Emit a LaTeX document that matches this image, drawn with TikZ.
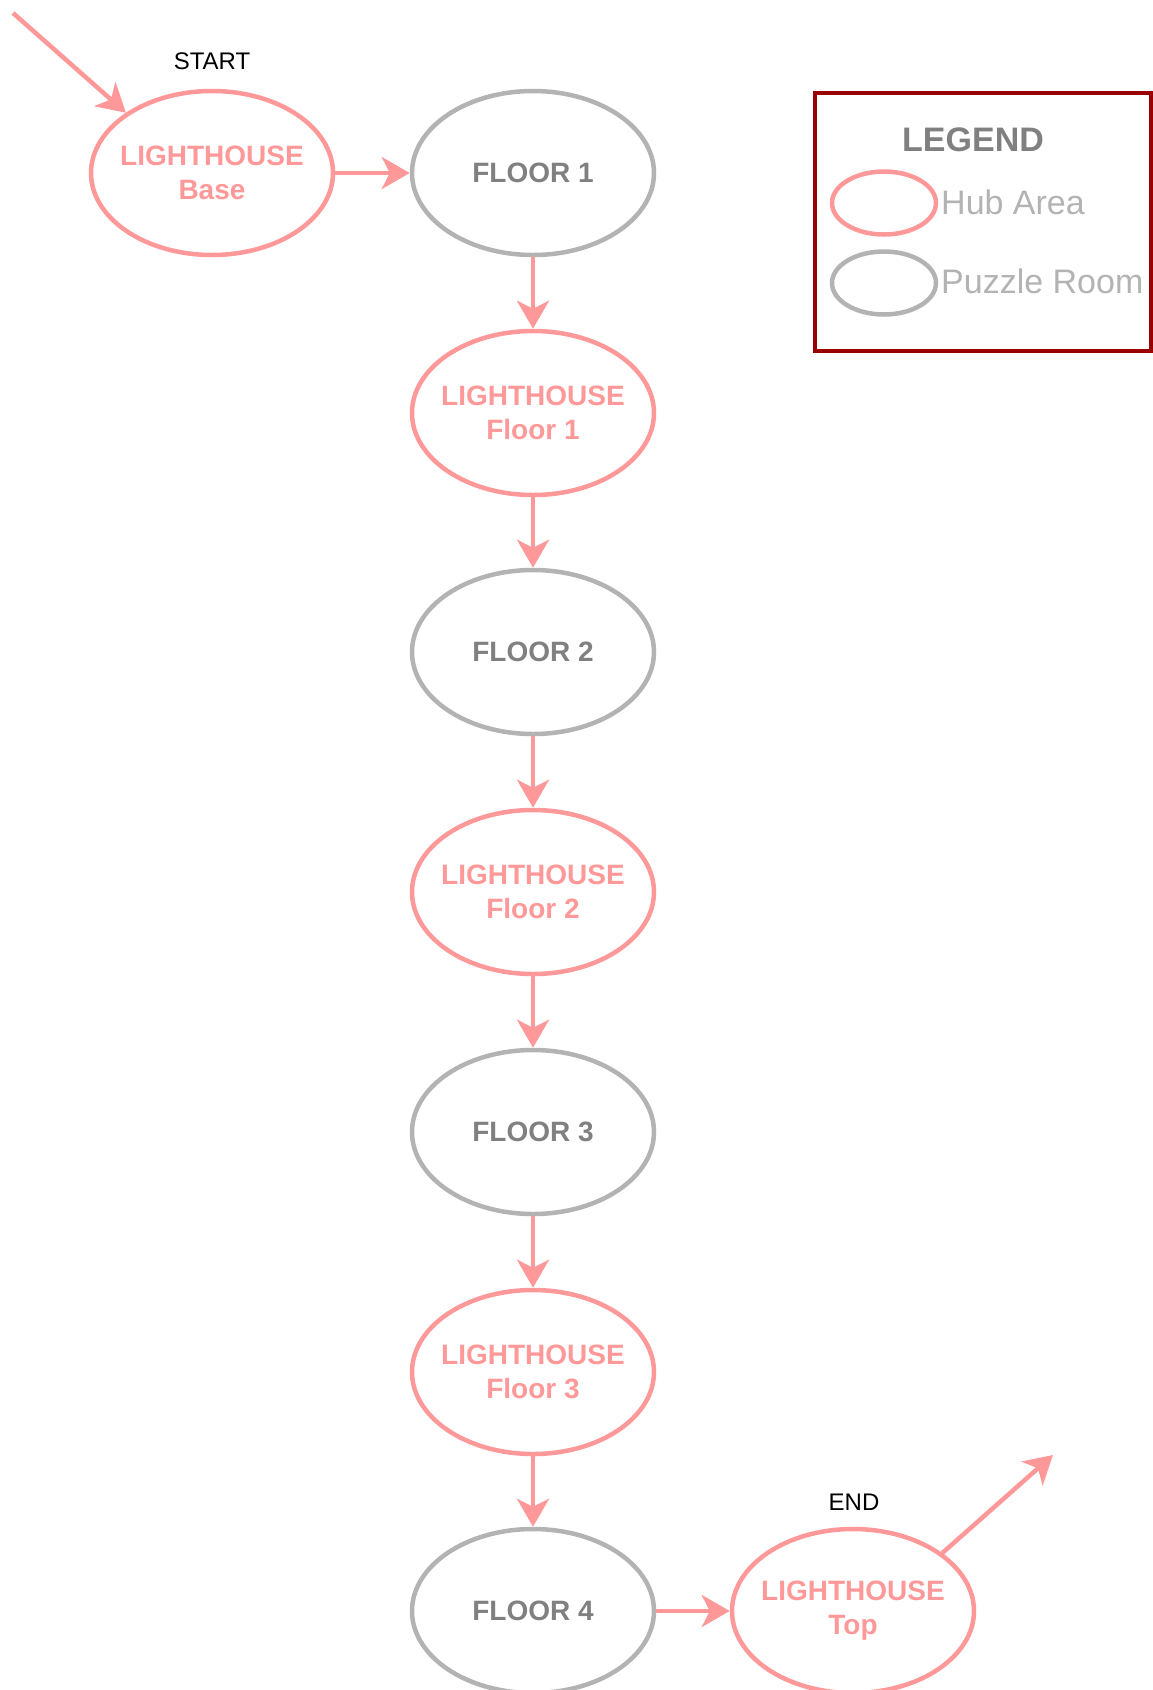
\documentclass[tikz,border=0pt]{standalone}
\usepackage{fontspec}
\setmainfont{Liberation Sans}
\usetikzlibrary{arrows.meta,shapes.geometric}
\definecolor{hubpink}{HTML}{FF9999}
\definecolor{puzgrey}{HTML}{B3B3B3}
\definecolor{txtgrey}{HTML}{808080}
\definecolor{legred}{HTML}{990000}
\tikzset{
  hub/.style={ellipse, draw=hubpink, line width=4.5pt, minimum width=242pt, minimum height=164pt,
    inner xsep=-16pt, inner ysep=0pt, text=hubpink, align=center,
    font=\fontsize{28}{34}\selectfont\bfseries},
  puzzle/.style={ellipse, draw=puzgrey, line width=4.5pt, minimum width=242pt, minimum height=164pt,
    inner xsep=-16pt, inner ysep=0pt, text=txtgrey, align=center,
    font=\fontsize{28}{34}\selectfont\bfseries},
  flow/.style={draw=hubpink, line width=4.5pt, -{Stealth[length=28pt,width=32pt,inset=8pt]}},
  tag/.style={font=\fontsize{24}{27}\selectfont, text=black, inner sep=0pt},
  legsym/.style={ellipse, line width=4.5pt, minimum width=104pt, minimum height=63pt, inner sep=0pt},
  legtxt/.style={font=\fontsize{34}{39}\selectfont, text=puzgrey, anchor=west, inner sep=0pt},
}
\begin{document}
\begin{tikzpicture}[x=1pt,y=-1pt]
\useasboundingbox (0,0) rectangle (1153,1690);
% main chain
\node[hub]    (base) at (212,173) {LIGHTHOUSE\\Base};
\node[puzzle] (f1)   at (533,173) {FLOOR 1};
\node[hub]    (lh1)  at (533,413) {LIGHTHOUSE\\Floor 1};
\node[puzzle] (f2)   at (533,652) {FLOOR 2};
\node[hub]    (lh2)  at (533,892) {LIGHTHOUSE\\Floor 2};
\node[puzzle] (f3)   at (533,1132) {FLOOR 3};
\node[hub]    (lh3)  at (533,1372) {LIGHTHOUSE\\Floor 3};
\node[puzzle] (f4)   at (533,1611) {FLOOR 4};
\node[hub]    (top)  at (853,1611) {LIGHTHOUSE\\Top};
% start / end
\coordinate (startpt) at (13,13);
\coordinate (endpt) at (1053,1455);
\node[tag] (starttxt) at (212,61) {START};
\node[tag] (endtxt) at (854,1502) {END};
\draw[flow] (startpt) -- (base.145);
\draw[flow] (base) -- (f1);
\draw[flow] (f1) -- (lh1);
\draw[flow] (lh1) -- (f2);
\draw[flow] (f2) -- (lh2);
\draw[flow] (lh2) -- (f3);
\draw[flow] (f3) -- (lh3);
\draw[flow] (lh3) -- (f4);
\draw[flow] (f4) -- (top);
\draw[flow] (top.33) -- (endpt);
% legend
\draw[draw=legred, line width=4.5pt] (815,93) rectangle (1151,351);
\node[font=\fontsize{34}{39}\selectfont\bfseries, text=txtgrey, inner sep=0pt] (legtitle) at (973,140) {LEGEND};
\node[legsym, draw=hubpink] (leghub) at (884,203) {};
\node[legsym, draw=puzgrey] (legpuz) at (884,283) {};
\node[legtxt] (leghubtxt) at (941,202) {Hub Area};
\node[legtxt] (legpuztxt) at (941,281) {Puzzle Room};
\end{tikzpicture}
\end{document}
